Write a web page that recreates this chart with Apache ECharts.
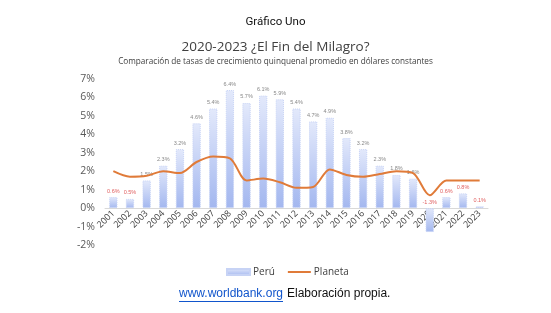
<!DOCTYPE html>
<html><head><meta charset="utf-8">
<script src="https://cdn.jsdelivr.net/npm/echarts@6/dist/echarts.min.js"></script>
<style>html,body{margin:0;padding:0;background:#fff}#c{width:551px;height:313px}</style>
</head><body><div id="c"></div>
<script>
const years = ['2001','2002','2003','2004','2005','2006','2007','2008','2009','2010','2011','2012','2013','2014','2015','2016','2017','2018','2019','2020','2021','2022','2023'];
const peru = [0.6,0.5,1.5,2.3,3.2,4.6,5.4,6.4,5.7,6.1,5.9,5.4,4.7,4.9,3.8,3.2,2.3,1.8,1.6,-1.3,0.6,0.8,0.1];
const planeta = [2.0,1.7,1.75,2.0,1.9,2.5,2.8,2.7,1.5,1.6,1.4,1.1,1.15,2.1,1.8,1.7,1.85,2.0,1.9,0.7,1.5,1.5,1.5];
const yTicks = [-2,-1,0,1,2,3,4,5,6,7];

const chart = echarts.init(document.getElementById('c'), null, {renderer:'canvas'});
const redIdx = [0,1,19,20,21,22];
const barGrad = new echarts.graphic.LinearGradient(0,0,0,1,[{offset:0,color:'#e3e9fb'},{offset:1,color:'#a3b7ef'}]);
chart.setOption({
  animation:false,
  backgroundColor:'#fff',
  title:[
    {text:'Gráfico Uno', left:'center', top:11, textStyle:{fontFamily:'Liberation Sans Narrow, Roboto, sans-serif', fontSize:11.5, fontWeight:'normal', color:'#111'}},
    {text:'2020-2023 ¿El Fin del Milagro?', left:'center', top:35, textStyle:{fontFamily:'Open Sans, sans-serif', fontSize:13.5, fontWeight:'normal', color:'#404040'}},
    {text:'Comparación de tasas de crecimiento quinquenal promedio en dólares constantes', left:'center', top:53, textStyle:{fontFamily:'Open Sans, sans-serif', fontSize:8.2, fontWeight:'normal', color:'#404040'}}
  ],
  grid:{left:105, right:63, top:79, bottom:68},
  legend:{top:262, left:221, itemWidth:23, itemHeight:6, itemGap:12,
    textStyle:{fontFamily:'Open Sans, sans-serif', fontSize:10, color:'#404040', padding:[0,0,0,-2]},
    data:[{name:'Perú', icon:'rect'},{name:'Planeta', itemStyle:{opacity:0}}]},
  xAxis:{type:'category', data:years, axisTick:{show:false}, position:'bottom', offset:-37,
    axisLine:{onZero:false, lineStyle:{color:'#d9d9d9'}},
    axisLabel:{rotate:45, fontSize:9, color:'#404040', fontFamily:'Open Sans, sans-serif', margin:4}},
  yAxis:{type:'value', min:yTicks[0], max:yTicks[yTicks.length-1], interval:1,
    splitLine:{show:false}, axisLine:{show:false}, axisTick:{show:false},
    axisLabel:{formatter:'{value}%', fontSize:10.5, color:'#595959', fontFamily:'Open Sans, sans-serif', margin:10}},
  series:[
    {name:'Perú', type:'bar', barWidth:'50%',
      data:peru.map((v,i)=>({value:v, label:{color: redIdx.includes(i)?'#e06060':'#888'}})),
      itemStyle:{color:barGrad, borderColor:'#c7d3f5', borderWidth:1, borderType:'dotted'},
      label:{show:true, position:'top', fontSize:5.5, formatter:p=>p.value.toFixed(1)+'%', distance:3}},
    {name:'Planeta', type:'line', data:planeta, symbol:'none', smooth:0.3,
      lineStyle:{color:'#e07b39', width:2}, itemStyle:{color:'#e07b39'}}
  ],
  graphic:[
    {type:'text', left:179, top:288, style:{text:'www.worldbank.org', fill:'#1155cc', font:'12px Liberation Sans, Arial, sans-serif'}},
    {type:'rect', left:179, top:301, shape:{width:104, height:1}, style:{fill:'#1155cc'}},
    {type:'text', left:287, top:288, style:{text:'Elaboración propia.', fill:'#111', font:'12px Liberation Sans Narrow, Arial Narrow, sans-serif'}}
  ]
});
</script></body></html>
